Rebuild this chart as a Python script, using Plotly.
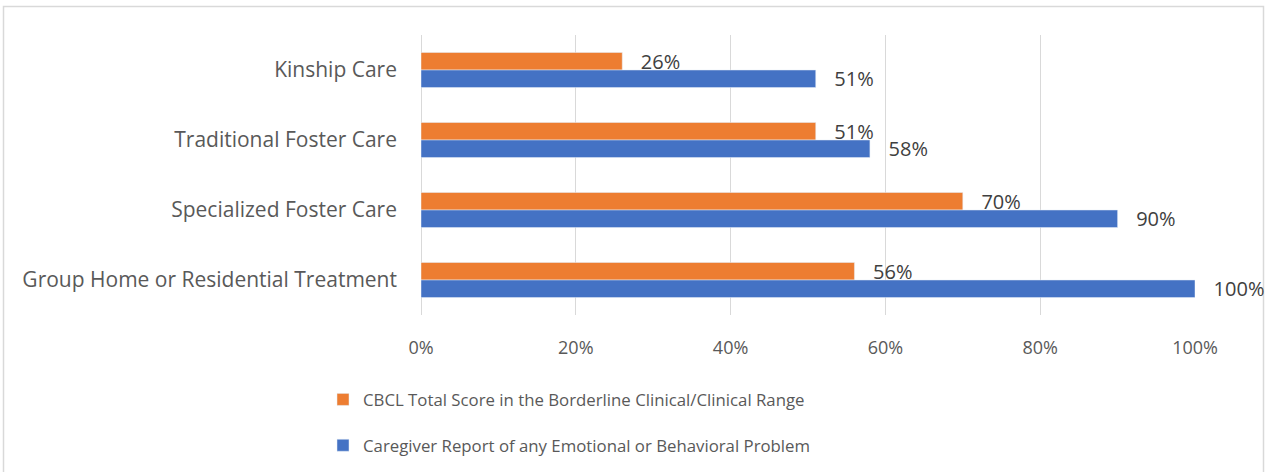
import plotly.graph_objects as go

categories = ["Kinship Care", "Traditional Foster Care", "Specialized Foster Care",
              "Group Home or Residential Treatment"]
cbcl = [26, 51, 70, 56]
caregiver = [51, 58, 90, 100]
series_names = ["CBCL Total Score in the Borderline Clinical/Clinical Range",
                "Caregiver Report of any Emotional or Behavioral Problem"]
tick_vals = [0, 20, 40, 60, 80, 100]
tick_text = ["0%", "20%", "40%", "60%", "80%", "100%"]

W, H = 1266, 472
L, R, T, B = 421, 1195, 35, 315

def px_x(p):
    return (p - L) / (R - L)

def px_y(p):
    return (B - p) / (B - T)

FONT = "Open Sans"
PAD = "\u00a0\u00a0\u00a0"
fig = go.Figure()
fig.add_trace(go.Bar(
    y=categories, x=cbcl, orientation="h", name=series_names[0],
    marker=dict(color="#ED7D31"), text=[f"{PAD}{v}%" for v in cbcl],
    textposition="outside", cliponaxis=False, constraintext="none",
    textfont=dict(family=FONT, size=20, color="#404040"),
    legendgroup="a",
))
fig.add_trace(go.Bar(
    y=categories, x=caregiver, orientation="h", name=series_names[1],
    marker=dict(color="#4472C4"), text=[f"{PAD}{v}%" for v in caregiver],
    textposition="outside", cliponaxis=False, constraintext="none",
    textfont=dict(family=FONT, size=20, color="#404040"),
    legendgroup="b",
))

fig.update_layout(
    width=W, height=H, autosize=False,
    margin=dict(l=L, r=W - R, t=T, b=H - B, autoexpand=False),
    paper_bgcolor="white", plot_bgcolor="white",
    barmode="group", bargap=0.5, bargroupgap=0,
    font=dict(family=FONT, color="#595959"),
    xaxis=dict(range=[0, 100], tickvals=tick_vals, ticktext=tick_text,
               showgrid=True, gridcolor="#D9D9D9", gridwidth=1,
               zeroline=True, zerolinecolor="#D9D9D9", zerolinewidth=1,
               showline=False, ticks="", tickfont=dict(size=18, color="#595959"),
               ticklabelstandoff=20, fixedrange=True, automargin=False),
    yaxis=dict(autorange="reversed", showgrid=False, ticks="",
               tickfont=dict(size=21, color="#595959"), ticklabelstandoff=23,
               showline=False, automargin=False),
    showlegend=True,
    legend=dict(x=px_x(323), y=px_y(382), xanchor="left", yanchor="top",
                traceorder="grouped", tracegroupgap=21,
                font=dict(size=16.8, color="#595959"), bgcolor="rgba(0,0,0,0)"),
    shapes=[dict(type="rect", xref="paper", yref="paper",
                 x0=px_x(3.5), x1=px_x(1263.5), y0=px_y(490), y1=px_y(6.5),
                 line=dict(color="#D9D9D9", width=1.5), fillcolor="rgba(0,0,0,0)",
                 layer="below")],
)

fig.write_html("out.html", config=dict(displayModeBar=False),
               post_script="document.body.style.margin='0';document.body.style.padding='0';")
